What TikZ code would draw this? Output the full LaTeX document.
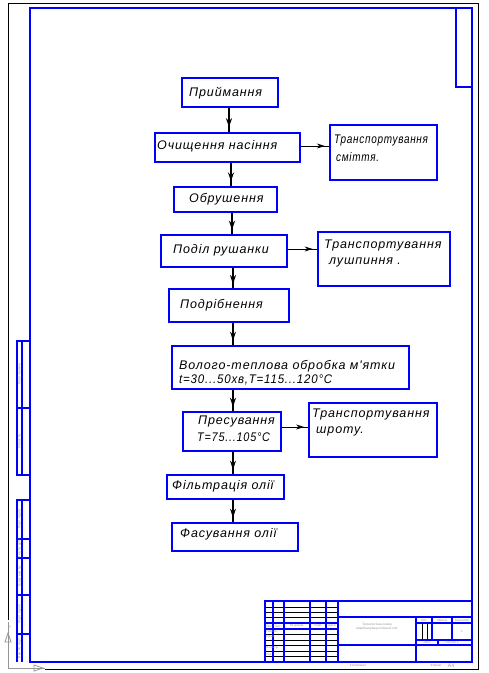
\documentclass[tikz,border=0pt]{standalone}
\usepackage{fontspec}
\usepackage{graphicx}
\setmainfont{Liberation Sans}
\newfontfamily\gost[LetterSpace=7]{Liberation Sans}
\usetikzlibrary{arrows.meta,decorations.markings}
\definecolor{cadblue}{RGB}{0,0,255}
\definecolor{cadgray}{RGB}{150,150,150}
\begin{document}
\begin{tikzpicture}[x=1pt,y=-1pt,
  bline/.style={draw=cadblue,line width=2pt},
  kline/.style={draw=black,line width=0.9pt},
  gline/.style={draw=cadgray,line width=0.8pt},
  box/.style={draw=cadblue,line width=2pt,inner sep=0pt,anchor=north west},
  txt/.style={font=\gost\itshape\fontsize{12.5}{14}\selectfont,inner sep=0pt,anchor=west},
  tiny/.style={font=\fontsize{3.2}{4}\selectfont,text=cadgray,inner sep=0pt},
  vflow/.style={draw=black,line width=1.8pt,postaction={decorate},
    decoration={markings,mark=at position 0.8 with {\arrow{Stealth[length=9pt,width=6pt]}}}},
  hflow/.style={draw=black,line width=0.9pt,postaction={decorate},
    decoration={markings,mark=at position 0.85 with {\arrow{Stealth[length=8pt,width=5pt]}}}}]
\useasboundingbox (0,0) rectangle (488,673);
% outer thin frame
\draw[kline] (8,620) -- (8,3) -- (478,3) -- (478,669) -- (45,669);
% UCS icon
\draw[gline] (8,622) -- (8,668) -- (45,668);
\draw[gline] (8,633) -- (5,642) -- (11,642) -- cycle;
\draw[gline] (34,665) -- (43,668) -- (34,671) -- cycle;
\node[tiny] (ucsy) at (10,627) {Y};
\node[tiny] (ucsx) at (46,662) {X};
% blue frame
\draw[bline] (30,8) rectangle (472,662);
\draw[bline] (456,8) -- (456,87) -- (472,87);
% left side blocks
\draw[bline] (30,341) -- (17,341) -- (17,475) -- (30,475);
\draw[bline] (22,341) -- (22,475);
\draw[bline] (17,408) -- (30,408);
\draw[bline] (30,500) -- (17,500) -- (17,662);
\draw[bline] (22,500) -- (22,662);
\foreach \yy in {539,558,595,634} \draw[bline] (17,\yy) -- (30,\yy);
\node[tiny,rotate=90] (lt1) at (19.5,374) {Перв. примен.};
\node[tiny,rotate=90] (lt2) at (19.5,441) {Справ. №};
\node[tiny,rotate=90] (lt3) at (19.5,519) {Подп. и дата};
\node[tiny,rotate=90] (lt4) at (19.5,548) {Инв. № дубл.};
\node[tiny,rotate=90] (lt5) at (19.5,576) {Взам. инв. №};
\node[tiny,rotate=90] (lt6) at (19.5,614) {Подп. и дата};
\node[tiny,rotate=90] (lt7) at (19.5,648) {Инв. № подл.};
% title block
\foreach \yy in {607,612,617,634,640,645,651,656} \draw[kline,line width=0.7pt] (265,\yy) -- (338,\yy);
\draw[kline,line width=0.7pt] (422,623) -- (422,640);
\draw[kline,line width=0.7pt] (427,623) -- (427,640);
\draw[bline] (265,662) -- (265,601) -- (472,601);
\foreach \xx in {273,284,310,326,338} \draw[bline] (\xx,601) -- (\xx,662);
\draw[bline] (265,623) -- (338,623);
\draw[bline] (265,629) -- (338,629);
\draw[bline] (338,617) -- (472,617);
\draw[bline] (338,645) -- (472,645);
\draw[bline] (416,617) -- (416,662);
\draw[bline] (416,623) -- (472,623);
\draw[bline] (416,640) -- (472,640);
\draw[bline] (432,617) -- (432,640);
\draw[bline] (452,617) -- (452,640);
\draw[bline] (438,640) -- (438,645);
\node[tiny] (h1) at (269,626) {Изм.};
\node[tiny] (h2) at (278.5,626) {Лист};
\node[tiny] (h3) at (297,626) {№ докум.};
\node[tiny] (h4) at (318,626) {Подп.};
\node[tiny] (h5) at (332,626) {Дата};
\node[tiny,anchor=west] (r1t) at (266,632) {Разраб.};
\node[tiny,anchor=west] (r2t) at (266,637) {Пров.};
\node[tiny,anchor=west] (r3t) at (266,648) {Н.контр.};
\node[tiny,anchor=west] (r4t) at (266,654) {Утв.};
\node[tiny] (lit) at (424,620) {Лит.};
\node[tiny] (mas) at (442,620) {Масса};
\node[tiny] (msh) at (462,620) {Масштаб};
\node[tiny] (one) at (462,631) {1};
\node[tiny] (lst) at (427,642.5) {Лист};
\node[tiny] (lsts) at (452,642.5) {Листов 1};
\node[tiny,align=center] (ttl) at (377,627) {Технологічна схема\\виробництва рослинної олії};
\node[tiny] (kop) at (358,665.5) {Копировал};
\node[tiny] (fmt) at (436,665.5) {Формат};
\node[tiny,font=\fontsize{5}{6}\selectfont] (a4) at (451,665.5) {А4};
% flow boxes
\node[box,minimum width=96pt,minimum height=29pt] (b1) at (181,77) {};
\node[box,minimum width=145pt,minimum height=29pt] (b2) at (154,132) {};
\node[box,minimum width=107pt,minimum height=55pt] (r1) at (329,124) {};
\node[box,minimum width=103pt,minimum height=25pt] (b3) at (173,186) {};
\node[box,minimum width=126pt,minimum height=32pt] (b4) at (160,234) {};
\node[box,minimum width=132pt,minimum height=54pt] (r2) at (317,231) {};
\node[box,minimum width=120pt,minimum height=33pt] (b5) at (168,288) {};
\node[box,minimum width=237pt,minimum height=43pt] (b6) at (171,345) {};
\node[box,minimum width=98pt,minimum height=39pt] (b7) at (182,411) {};
\node[box,minimum width=128pt,minimum height=54pt] (r3) at (308,402) {};
\node[box,minimum width=117pt,minimum height=24pt] (b8) at (166,474) {};
\node[box,minimum width=126pt,minimum height=28pt] (b9) at (171,522) {};
% texts
\node[txt] (t1) at (189,93) {Приймання};
\node[txt] (t2) at (157,146) {Очищення насіння};
\node[txt] (t3a) at (334,140) {\scalebox{0.8}[1]{Транспортування}};
\node[txt] (t3b) at (336,157) {\scalebox{0.8}[1]{сміття.}};
\node[txt] (t4) at (189,199) {Обрушення};
\node[txt] (t5) at (173,250) {Поділ рушанки};
\node[txt] (t6a) at (324,245) {Транспортування};
\node[txt] (t6b) at (329,262) {лушпиння .};
\node[txt] (t7) at (180,305) {Подрібнення};
\node[txt] (t8a) at (179,366) {Волого-теплова обробка м'ятки};
\node[txt] (t8b) at (179,380) {\scalebox{0.92}[1]{t=30...50хв,T=115...120°C}};
\node[txt] (t9a) at (198,421) {Пресування};
\node[txt] (t9b) at (197,437) {\scalebox{0.87}[1]{T=75...105°C}};
\node[txt] (t10a) at (312,414) {Транспортування};
\node[txt] (t10b) at (316,431) {шроту.};
\node[txt] (t11) at (172,486) {Фільтрація олії};
\node[txt] (t12) at (180,534) {Фасування олії};
% connectors
\draw[vflow] (b1.south -| 229,0) -- (b2.north -| 229,0);
\draw[vflow] (b2.south -| 231,0) -- (b3.north -| 231,0);
\draw[vflow] (b3.south -| 232,0) -- (b4.north -| 232,0);
\draw[vflow] (b4.south -| 233,0) -- (b5.north -| 233,0);
\draw[vflow] (b5.south -| 233,0) -- (b6.north -| 233,0);
\draw[vflow] (b6.south -| 233,0) -- (b7.north -| 233,0);
\draw[vflow] (b7.south -| 233,0) -- (b8.north -| 233,0);
\draw[vflow] (b8.south -| 233,0) -- (b9.north -| 233,0);
\draw[hflow] (b2.east |- 0,146) -- (r1.west |- 0,146);
\draw[hflow] (b4.east |- 0,249) -- (r2.west |- 0,249);
\draw[hflow] (b7.east |- 0,427) -- (r3.west |- 0,427);
\end{tikzpicture}
\end{document}
